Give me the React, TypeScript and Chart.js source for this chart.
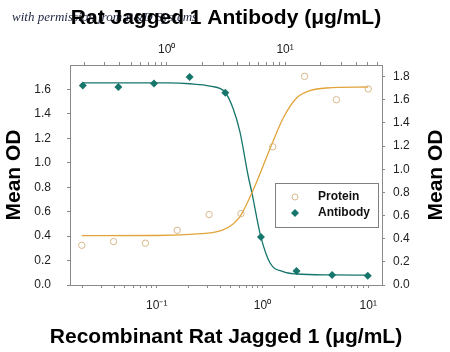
import React, { useEffect, useRef } from "react";
import { Chart, registerables } from "chart.js";

Chart.register(...registerables);

// Protein (bottom axis, left axis)
const proteinConc = [0.0195, 0.039, 0.078, 0.156, 0.3125, 0.625, 1.25, 2.5, 5, 10];
const proteinOD = [0.325, 0.355, 0.342, 0.448, 0.576, 0.584, 1.131, 1.707, 1.516, 1.604];
const proteinCurveConc = [0.0195, 0.1, 0.206, 0.423, 0.612, 0.79, 0.98, 1.22, 1.57, 2.1, 2.81, 4.05, 10];
const proteinCurveOD = [0.404, 0.405, 0.415, 0.451, 0.56, 0.75, 0.943, 1.148, 1.366, 1.53, 1.59, 1.612, 1.62];

// Antibody (top axis, right axis)
const antibodyConc = [0.195, 0.39, 0.78, 1.56, 3.125, 6.25, 12.5, 25, 50];
const antibodyOD = [1.724, 1.71, 1.741, 1.796, 1.661, 0.414, 0.121, 0.086, 0.08];
const antibodyCurveConc = [0.195, 1.0, 1.57, 2.32, 3.11, 3.65, 4.16, 4.86, 5.26, 6.23, 7.47, 9.62, 12.6, 25, 50];
const antibodyCurveOD = [1.745, 1.745, 1.738, 1.718, 1.665, 1.52, 1.32, 0.95, 0.79, 0.42, 0.19, 0.115, 0.095, 0.087, 0.085];

const bottomTickValues = [0.02, 0.03, 0.04, 0.05, 0.06, 0.07, 0.08, 0.09, 0.1, 0.2, 0.3, 0.4, 0.5, 0.6, 0.7, 0.8, 0.9, 1, 2, 3, 4, 5, 6, 7, 8, 9, 10];
const topTickValues = [0.2, 0.3, 0.4, 0.5, 0.6, 0.7, 0.8, 0.9, 1, 2, 3, 4, 5, 6, 7, 8, 9, 10, 20, 30, 40, 50, 60];
const powerLabels: Record<string, string> = { "0.1": "10⁻¹", "1": "10⁰", "10": "10¹" };

const titleTop = "Rat Jagged 1 Antibody (μg/mL)";
const titleBottom = "Recombinant Rat Jagged 1 (μg/mL)";
const titleY = "Mean OD";

const TEAL = "#17766b";
const ORANGE = "#e2a43a";
const TAN = "#d8b98a";
const AXIS = "#8a8a8a";

const pts = (xs: number[], ys: number[]) => xs.map((x, i) => ({ x, y: ys[i] }));

export default function App() {
  const ref = useRef<HTMLCanvasElement>(null);
  useEffect(() => {
    if (!ref.current) return;
    const tickFont = { family: "Arial, 'Liberation Sans'", size: 12 };
    const titleFont = { family: "Arial, 'Liberation Sans'", size: 21, weight: "bold" as const };
    const labelCb = (v: any) => powerLabels[String(Number(v))] ?? "";

    const watermark = {
      id: "watermark",
      beforeDraw(chart: any) {
        const ctx = chart.ctx;
        ctx.save();
        ctx.fillStyle = "#ffffff";
        ctx.fillRect(0, 0, chart.width, chart.height);
        ctx.font = "italic 13px 'Liberation Serif', 'DejaVu Serif', serif";
        ctx.fillStyle = "#1d2540";
        ctx.textBaseline = "alphabetic";
        ctx.fillText("with permission from R&D Systems", 12, 21);
        ctx.restore();
      },
    };

    const extras = {
      id: "extras",
      afterDraw(chart: any) {
        const ctx = chart.ctx;
        const area = chart.chartArea;
        ctx.save();
        ctx.fillStyle = "#000";
        ctx.textAlign = "center";
        ctx.textBaseline = "middle";
        ctx.font = "bold 21px Arial, 'Liberation Sans'";
        // bottom axis title (wider than the plot area)
        ctx.fillText(titleBottom, 226, 337);
        // right axis title, reading bottom to top
        ctx.translate(436, (area.top + area.bottom) / 2);
        ctx.rotate(-Math.PI / 2);
        ctx.fillText(titleY, 0, 0);
        ctx.restore();

        ctx.save();
        ctx.strokeStyle = "#808080";
        ctx.lineWidth = 1;
        ctx.strokeRect(275.5, 183.5, 103, 44);
        ctx.font = "bold 12px Arial, 'Liberation Sans'";
        ctx.textBaseline = "middle";
        const items = [chart.data.datasets[0], chart.data.datasets[2]];
        items.forEach((ds: any, i: number) => {
          const y = 197 + i * 16;
          ctx.beginPath();
          if (ds.pointStyle === "rectRot") {
            ctx.fillStyle = ds.pointBackgroundColor;
            ctx.moveTo(295, y - 4);
            ctx.lineTo(299, y);
            ctx.lineTo(295, y + 4);
            ctx.lineTo(291, y);
            ctx.closePath();
            ctx.fill();
          } else {
            ctx.strokeStyle = ds.pointBorderColor;
            ctx.arc(295, y, 3, 0, Math.PI * 2);
            ctx.stroke();
          }
          ctx.fillStyle = "#111";
          ctx.fillText(ds.label, 318, y);
        });
        ctx.restore();
      },
    };

    const chart = new Chart(ref.current, {
      type: "scatter",
      data: {
        datasets: [
          {
            label: "Protein",
            data: pts(proteinConc, proteinOD),
            xAxisID: "x",
            yAxisID: "y",
            pointStyle: "circle",
            pointRadius: 3.2,
            pointBorderColor: TAN,
            pointBackgroundColor: "rgba(255,255,255,0)",
            pointBorderWidth: 1,
            showLine: false,
          } as any,
          {
            label: "Protein fit",
            data: pts(proteinCurveConc, proteinCurveOD),
            xAxisID: "x",
            yAxisID: "y",
            showLine: true,
            pointRadius: 0,
            borderColor: ORANGE,
            borderWidth: 1.3,
            cubicInterpolationMode: "monotone",
          } as any,
          {
            label: "Antibody",
            data: pts(antibodyConc, antibodyOD),
            xAxisID: "x2",
            yAxisID: "y2",
            pointStyle: "rectRot",
            pointRadius: 4,
            pointBorderColor: TEAL,
            pointBackgroundColor: TEAL,
            pointBorderWidth: 0,
            showLine: false,
          } as any,
          {
            label: "Antibody fit",
            data: pts(antibodyCurveConc, antibodyCurveOD),
            xAxisID: "x2",
            yAxisID: "y2",
            showLine: true,
            pointRadius: 0,
            borderColor: TEAL,
            borderWidth: 1.3,
            cubicInterpolationMode: "monotone",
          } as any,
        ],
      },
      options: {
        responsive: false,
        animation: false,
        layout: { padding: 0 },
        plugins: { legend: { display: false }, tooltip: { enabled: false }, title: { display: false } },
        scales: {
          x: {
            type: "logarithmic",
            position: "bottom",
            min: 0.0151,
            max: 13.5,
            afterBuildTicks: (s: any) => {
              s.ticks = bottomTickValues.map((value) => ({ value }));
            },
            afterFit: (s: any) => {
              s.height = 67;
            },
            ticks: { callback: labelCb, font: tickFont, color: "#222", padding: 10, maxRotation: 0, autoSkip: false },
            grid: { drawOnChartArea: false, tickLength: 3, color: AXIS },
            border: { color: AXIS },
            title: { display: false },
          },
          x2: {
            type: "logarithmic",
            position: "top",
            min: 0.152,
            max: 66,
            afterBuildTicks: (s: any) => {
              s.ticks = topTickValues.map((value) => ({ value }));
            },
            afterFit: (s: any) => {
              s.height = 65;
            },
            ticks: { callback: labelCb, font: tickFont, color: "#222", padding: 5, maxRotation: 0, autoSkip: false },
            grid: { drawOnChartArea: false, tickLength: 3, color: AXIS },
            border: { color: AXIS },
            title: { display: true, text: titleTop, font: titleFont, color: "#000", padding: { top: 6, bottom: 0 } },
          },
          y: {
            type: "linear",
            position: "left",
            min: 0,
            max: 1.8,
            afterBuildTicks: (s: any) => {
              s.ticks = s.ticks.filter((t: any) => t.value <= 1.61);
            },
            afterFit: (s: any) => {
              s.width = 70;
            },
            ticks: { stepSize: 0.2, font: tickFont, color: "#222", padding: 16, callback: (v: any) => Number(v).toFixed(1) },
            grid: { drawOnChartArea: false, tickLength: 3, color: AXIS },
            border: { color: AXIS },
            title: { display: true, text: titleY, font: titleFont, color: "#000", padding: { top: 1.5, bottom: 0 } },
          },
          y2: {
            type: "linear",
            position: "right",
            min: 0,
            max: 1.9,
            afterFit: (s: any) => {
              s.width = 68;
            },
            ticks: { stepSize: 0.2, includeBounds: false, font: tickFont, color: "#222", padding: 8, callback: (v: any) => Number(v).toFixed(1) },
            grid: { drawOnChartArea: false, tickLength: 3, color: AXIS },
            border: { color: AXIS },
            title: { display: false },
          },
        },
      } as any,
      plugins: [watermark, extras],
    });
    return () => chart.destroy();
  }, []);

  return (
    <div style={{ position: "absolute", left: 0, top: 0, width: 450, height: 352, background: "#fff" }}>
      <canvas ref={ref} width={450} height={352} style={{ display: "block" }} />
    </div>
  );
}
